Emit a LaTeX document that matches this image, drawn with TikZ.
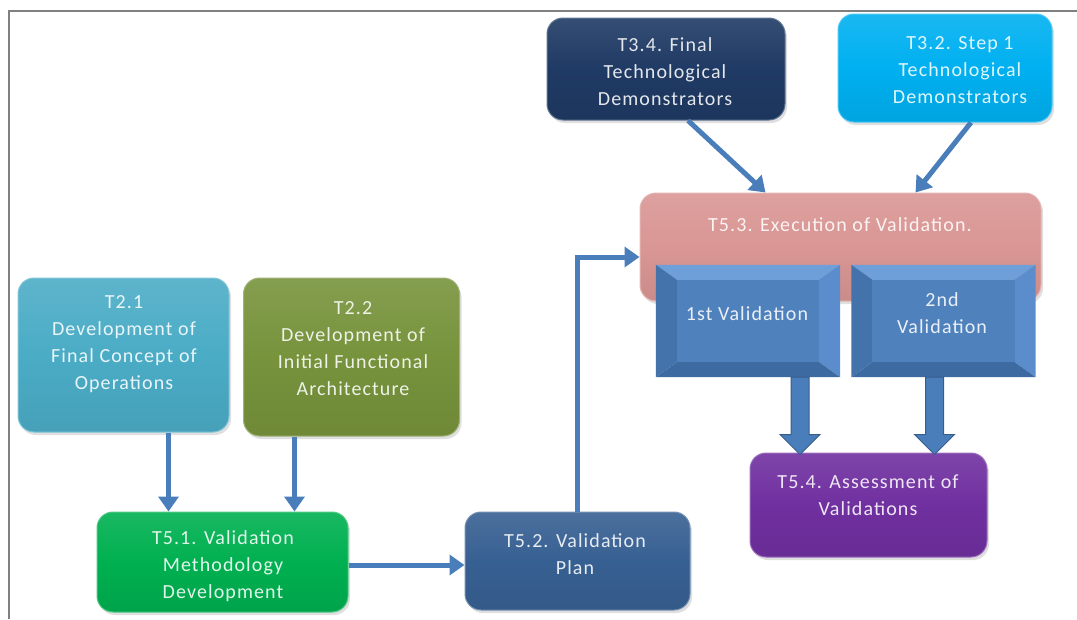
\documentclass[tikz,border=0pt]{standalone}
\usepackage{fontspec}
\setmainfont{Carlito}
\newfontfamily\boxfont{Carlito}[LetterSpace=5.5]
\usetikzlibrary{arrows.meta,calc,shadows}
\definecolor{c21}{HTML}{4BACC6}
\definecolor{c22}{HTML}{77933C}
\definecolor{c51}{HTML}{00B050}
\definecolor{c52}{HTML}{376092}
\definecolor{c34}{HTML}{1F3A64}
\definecolor{c32}{HTML}{00B0F0}
\definecolor{c53}{HTML}{D99694}
\definecolor{c54}{HTML}{7030A0}
\definecolor{vfront}{HTML}{4F81BD}
\definecolor{vtop}{HTML}{6E9FD8}
\definecolor{vleft}{HTML}{4473AC}
\definecolor{vright}{HTML}{5B8DCC}
\definecolor{vbottom}{HTML}{3D6AA0}
\definecolor{arrowblue}{HTML}{4A7EBB}
\definecolor{arrowedge}{HTML}{385D8A}
\tikzset{
  box/.style={rounded corners=16pt, draw=#1!70!white, line width=1pt,
    top color=#1!90!white, bottom color=#1!93!black, middle color=#1,
    drop shadow={opacity=0.25, shadow xshift=2pt, shadow yshift=-3pt},
    inner sep=0pt},
  txt/.style={text=white!88!#1, font=\boxfont\fontsize{20}{27}\selectfont, align=center, inner sep=0pt},
  conn/.style={draw=arrowblue, line width=5pt, -{Triangle[length=15pt,width=20pt]}},
  bevelbox/.style={inner sep=0pt, minimum width=184pt, minimum height=112pt},
  blockarrow/.style={fill=arrowblue, draw=arrowedge, line width=1pt, line join=miter},
  frame/.style={draw=black!50, line width=2.5pt}
}
\begin{document}
\begin{tikzpicture}[x=1pt,y=-1pt]
\useasboundingbox (0,0) rectangle (1077,619);
% frame
\coordinate (fbl) at (9,619);
\coordinate (ftl) at (9,11);
\coordinate (ftr) at (1077,11);
\draw[frame] (fbl) -- (ftl) -- (ftr);

% boxes
\node[box=c21, minimum width=211pt, minimum height=154pt] (t21) at (123.5,355) {};
\node[txt=c21] (t21t) at (124,344) {T2.1\\Development of\\Final Concept of\\Operations};

\node[box=c22, minimum width=216pt, minimum height=158pt] (t22) at (351.5,357) {};
\node[txt=c22] (t22t) at (353,349) {T2.2\\Development of\\Initial Functional\\Architecture};

\node[box=c51, minimum width=251pt, minimum height=100pt] (t51) at (222.5,562) {};
\node[txt=c51] (t51t) at (223,566) {T5.1. Validation\\Methodology\\Development};

\node[box=c52, minimum width=225pt, minimum height=98pt] (t52) at (577.5,561) {};
\node[txt=c52] (t52t) at (575,554) {T5.2. Validation\\Plan};

\node[box=c34, minimum width=238pt, minimum height=102pt] (t34) at (666,69) {};
\node[txt=c34] (t34t) at (665,72) {T3.4. Final\\Technological\\Demonstrators};

\node[box=c32, minimum width=214pt, minimum height=108pt] (t32) at (945,68) {};
\node[txt=c32] (t32t) at (960,70) {T3.2. Step 1\\Technological\\Demonstrators};

\node[box=c53, minimum width=401pt, minimum height=108pt] (t53) at (840.5,247) {};
\node[txt=c53] (t53t) at (840,225) {T5.3. Execution of Validation.};

\node[box=c54, minimum width=237pt, minimum height=104pt] (t54) at (868.5,505) {};
\node[txt=c54] (t54t) at (868,495) {T5.4. Assessment of\\Validations};

% bevel boxes
\node[bevelbox] (v1) at (748,321) {};
\node[bevelbox] (v2) at (943.5,321) {};
\foreach \n in {v1,v2}{
  \fill[vtop] (\n.north west) -- (\n.north east) -- ($(\n.north east)+(-21,15)$) -- ($(\n.north west)+(21,15)$) -- cycle;
  \fill[vleft] (\n.north west) -- ($(\n.north west)+(21,15)$) -- ($(\n.south west)+(21,-15)$) -- (\n.south west) -- cycle;
  \fill[vright] (\n.north east) -- ($(\n.north east)+(-21,15)$) -- ($(\n.south east)+(-21,-15)$) -- (\n.south east) -- cycle;
  \fill[vbottom] (\n.south west) -- ($(\n.south west)+(21,-15)$) -- ($(\n.south east)+(-21,-15)$) -- (\n.south east) -- cycle;
  \fill[vfront] ($(\n.north west)+(21,15)$) rectangle ($(\n.south east)+(-21,-15)$);
}
\node[txt=vfront] (v1t) at (747,314) {1st Validation};
\node[txt=vfront] (v2t) at (942,313) {2nd\\Validation};

% connectors
\draw[conn] ([xshift=45pt]t21.south) -- ([xshift=45pt]t21.south |- t51.north);
\draw[conn] ([xshift=-57pt]t22.south) -- ([xshift=-57pt]t22.south |- t51.north);
\draw[conn] ([yshift=-3pt]t51.east) -- ([yshift=-3pt]t51.east -| t52.west);
\draw[conn] (t52.north) |- ([yshift=-10pt]t53.west);
\draw[conn] ([xshift=22pt]t34.south) -- ([xshift=-75pt]t53.north);
\draw[conn] ([xshift=26pt]t32.south) -- ([xshift=75pt]t53.north);

% block arrows
\coordinate (b1s) at ([xshift=52pt]v1.south);
\coordinate (b1e) at (b1s |- t54.north);
\coordinate (b2s) at ([xshift=-9pt]v2.south);
\coordinate (b2e) at (b2s |- t54.north);
\foreach \s/\e in {b1s/b1e, b2s/b2e}{
  \draw[blockarrow] ($(\s)+(-9,0)$) -- ($(\e)+(-9,-18)$) -- ($(\e)+(-20,-18)$) -- ($(\e)+(0,2)$)
    -- ($(\e)+(20,-18)$) -- ($(\e)+(9,-18)$) -- ($(\s)+(9,0)$) -- cycle;
}
\end{tikzpicture}
\end{document}
